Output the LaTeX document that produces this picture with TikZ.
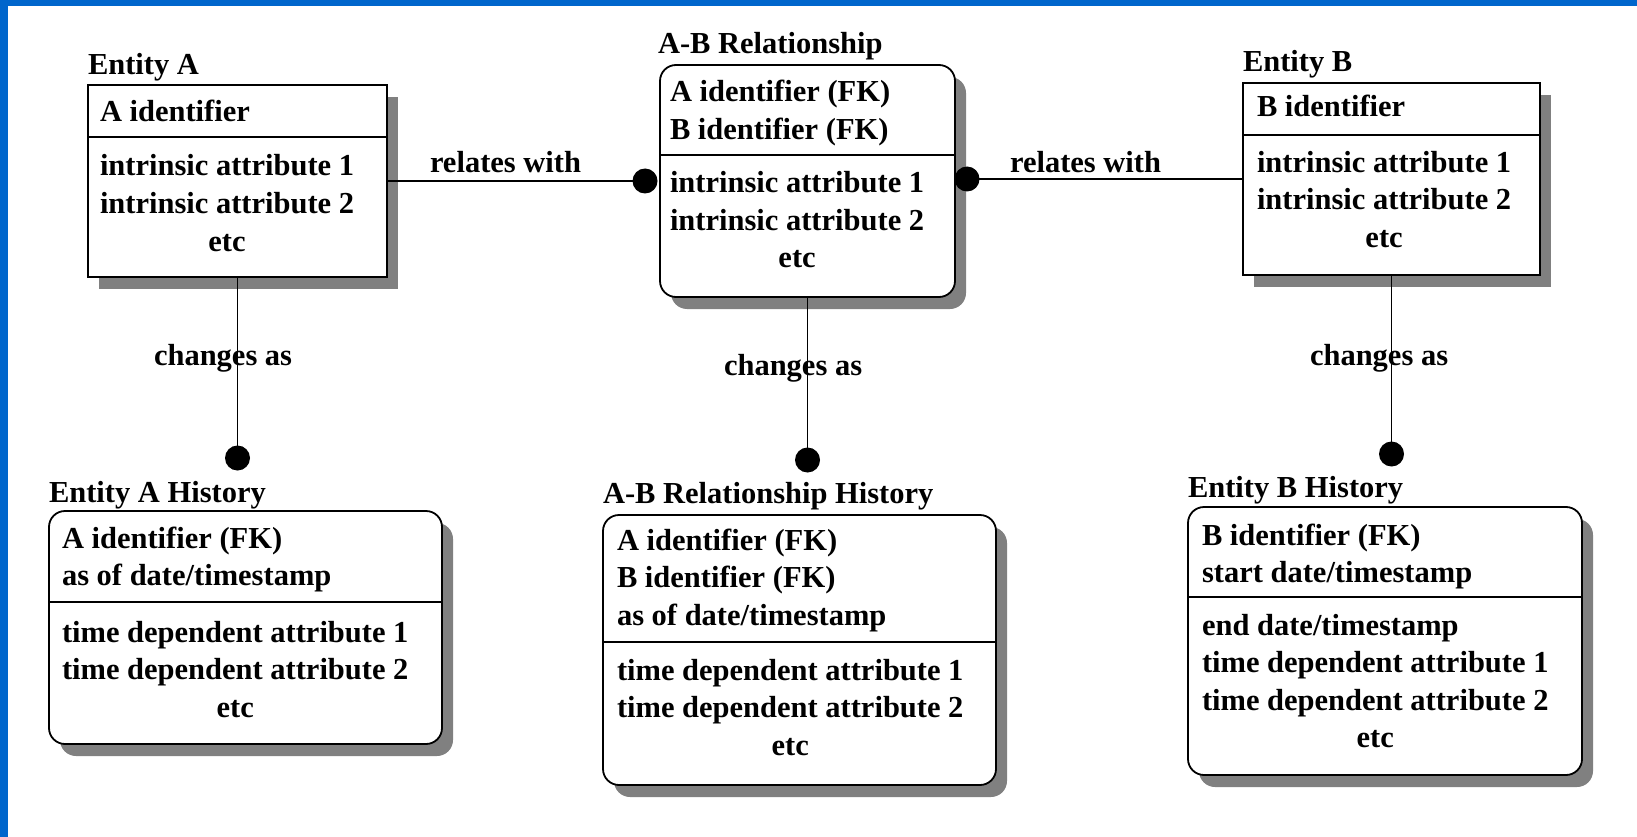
\documentclass[tikz,border=0pt]{standalone}
\usepackage{fontspec}
\setmainfont{Liberation Serif}
\usetikzlibrary{shadows}
\definecolor{framebl}{RGB}{0,102,204}
\definecolor{shadowgray}{RGB}{128,128,128}
% left-aligned attribute list, baseline on its first line
\newcommand\attrlist[1]{\begin{tabular}[t]{@{}l@{}}#1\end{tabular}}
\newcommand\etcline{\multicolumn{1}{@{}c@{}}{etc}}

\begin{document}
\begin{tikzpicture}[x=1pt,y=-1pt,
  every node/.style={font=\bfseries\fontsize{30.5}{37.5}\selectfont, inner sep=0pt, outer sep=0pt},
  boxshadow/.style={drop shadow={shadow xshift=11pt,shadow yshift=-12pt,fill=shadowgray,opacity=1}},
  entitybox/.style={draw, line width=1.8pt, fill=white, anchor=north west, boxshadow},
  histbox/.style={entitybox, rounded corners=16pt},
  txt/.style={anchor=base west},
  dot/.style={circle, fill=black, minimum size=25pt},
  link/.style={line width=1.8pt},
  divider/.style={line width=1.8pt}
]
\useasboundingbox (0,0) rectangle (1637,837);
\fill[white] (0,0) rectangle (1637,837);
\fill[framebl] (0,0) rectangle (8,837);
\fill[framebl] (0,0) rectangle (1637,6);

% ---- boxes ----
\node[entitybox, minimum width=299pt, minimum height=192pt] (ea) at (88,85) {};
\node[histbox,   minimum width=295pt, minimum height=232pt] (rel) at (660,65) {};
\node[entitybox, minimum width=297pt, minimum height=192pt] (eb) at (1243,83) {};
\node[histbox,   minimum width=393pt, minimum height=233pt] (ah) at (49,511) {};
\node[histbox,   minimum width=393pt, minimum height=270pt] (abh) at (603,515) {};
\node[histbox,   minimum width=394pt, minimum height=268pt] (bh) at (1188,507) {};

% ---- compartment dividers ----
\draw[divider] ([yshift=-52pt]ea.north west) -- ([yshift=-52pt]ea.north east);
\draw[divider] ([yshift=-90pt]rel.north west) -- ([yshift=-90pt]rel.north east);
\draw[divider] ([yshift=-52pt]eb.north west) -- ([yshift=-52pt]eb.north east);
\draw[divider] ([yshift=-91pt]ah.north west) -- ([yshift=-91pt]ah.north east);
\draw[divider] ([yshift=-127pt]abh.north west) -- ([yshift=-127pt]abh.north east);
\draw[divider] ([yshift=-90pt]bh.north west) -- ([yshift=-90pt]bh.north east);

% ---- connector end dots ----
\node[dot] (d1) at (645,181) {};
\node[dot] (d2) at (967,179) {};
\node[dot] (d3) at (237.5,458) {};
\node[dot] (d4) at (807.5,460) {};
\node[dot] (d5) at (1391.5,454) {};

% ---- connectors ----
\draw[link] (ea.east) -- (d1.center);
\draw[link] (d2.center) -- (eb.west);
\draw[link] (ea.south) -- (d3.center);
\draw[link] (rel.south) -- (d4.center);
\draw[link] (eb.south) -- (d5.center);

% ---- connector labels ----
\node[txt] (l1) at (430,173) {relates with};
\node[txt] (l2) at (1010,172) {relates with};
\node[txt] (l3) at (154,365) {changes as};
\node[txt] (l4) at (724,375) {changes as};
\node[txt] (l5) at (1310,365) {changes as};

% ---- Entity A ----
\node[txt] (ea-t) at (88,75) {Entity A};
\node[txt] (ea-k) at (100,122) {A identifier};
\node[txt] (ea-a) at (100,176) {\attrlist{intrinsic attribute 1\\intrinsic attribute 2\\\etcline}};

% ---- A-B Relationship ----
\node[txt] (rel-t) at (658,54) {A-B Relationship};
\node[txt] (rel-k) at (670,102) {\attrlist{A identifier (FK)\\B identifier (FK)}};
\node[txt] (rel-a) at (670,193) {\attrlist{intrinsic attribute 1\\intrinsic attribute 2\\\etcline}};

% ---- Entity B ----
\node[txt] (eb-t) at (1243,72) {Entity B};
\node[txt] (eb-k) at (1257,117) {B identifier};
\node[txt] (eb-a) at (1257,172) {\attrlist{intrinsic attribute 1\\intrinsic attribute 2\\\etcline}};

% ---- Entity A History ----
\node[txt] (ah-t) at (49,502) {Entity A History};
\node[txt] (ah-k) at (62,548) {\attrlist{A identifier (FK)\\as of date/timestamp}};
\node[txt] (ah-a) at (62,642) {\attrlist{time dependent attribute 1\\time dependent attribute 2\\\etcline}};

% ---- A-B Relationship History ----
\node[txt] (abh-t) at (603,503) {A-B Relationship History};
\node[txt] (abh-k) at (617,550) {\attrlist{A identifier (FK)\\B identifier (FK)\\as of date/timestamp}};
\node[txt] (abh-a) at (617,680) {\attrlist{time dependent attribute 1\\time dependent attribute 2\\\etcline}};

% ---- Entity B History ----
\node[txt] (bh-t) at (1188,497) {Entity B History};
\node[txt] (bh-k) at (1202,545) {\attrlist{B identifier (FK)\\start date/timestamp}};
\node[txt] (bh-a) at (1202,635) {\attrlist{end date/timestamp\\time dependent attribute 1\\time dependent attribute 2\\\etcline}};
\end{tikzpicture}
\end{document}
